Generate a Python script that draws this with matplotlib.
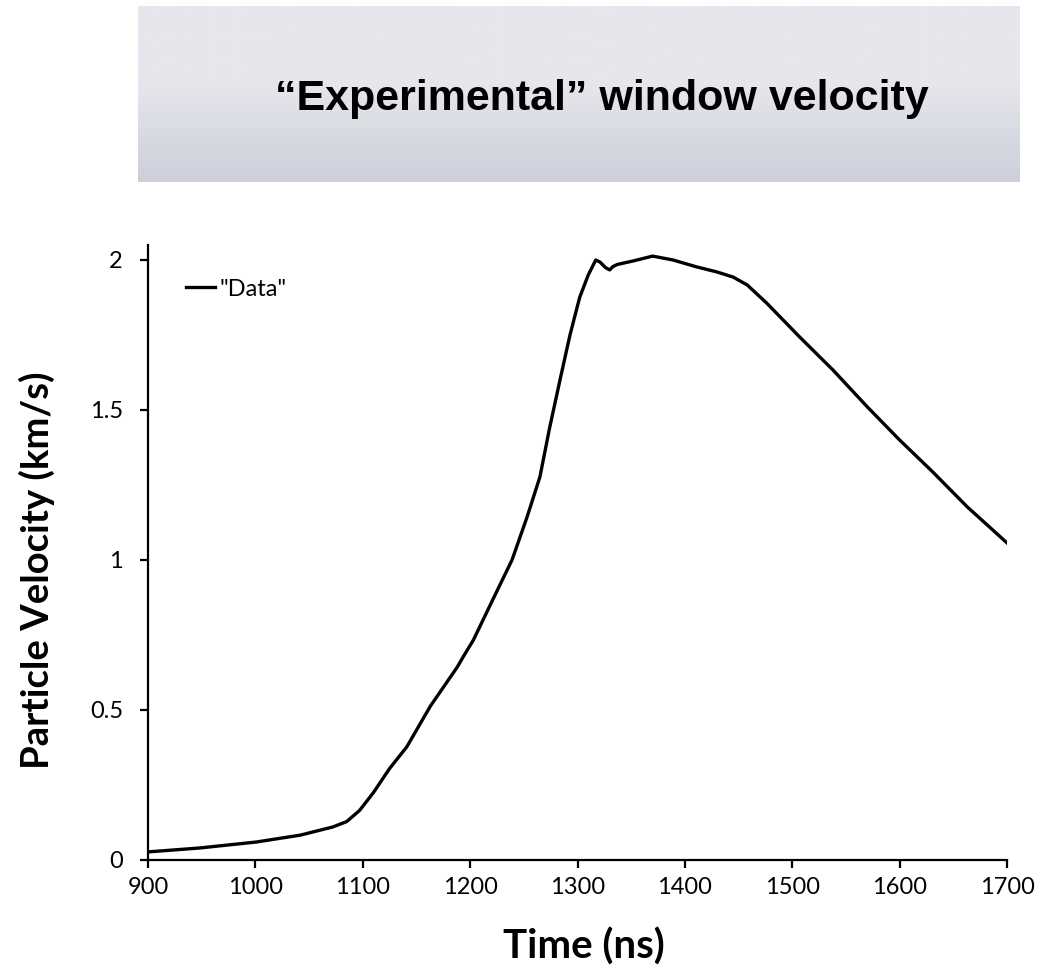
import numpy as np
import matplotlib.pyplot as plt

# window velocity trace (time in ns, particle velocity in km/s)
time_ns = [900, 948, 1001, 1042, 1072, 1085, 1097, 1110, 1125, 1141, 1163, 1188,
           1194, 1203, 1221, 1239, 1253, 1265, 1274, 1284, 1293, 1302, 1310,
           1317, 1321, 1326, 1330, 1333, 1337, 1352, 1370, 1389, 1411, 1430,
           1445, 1458, 1476, 1507, 1538, 1570, 1600, 1631, 1663, 1700]
velocity = [0.027, 0.040, 0.060, 0.083, 0.110, 0.128, 0.165, 0.225, 0.305, 0.377,
            0.513, 0.643, 0.680, 0.733, 0.867, 1.000, 1.143, 1.277, 1.440, 1.605,
            1.750, 1.875, 1.950, 2.000, 1.993, 1.975, 1.967, 1.978, 1.985, 1.997,
            2.013, 2.000, 1.977, 1.960, 1.943, 1.917, 1.857, 1.743, 1.633, 1.510,
            1.400, 1.293, 1.177, 1.057]

x_ticks = [900, 1000, 1100, 1200, 1300, 1400, 1500, 1600, 1700]
y_ticks = [0, 0.5, 1, 1.5, 2]
y_tick_labels = ["0", "0.5", "1", "1.5", "2"]

fig = plt.figure(figsize=(10.54, 9.75), dpi=100)

# shaded title banner
banner = fig.add_axes([138 / 1054, 1 - 182 / 975, 882 / 1054, 176 / 975])
top = np.array([0xE6, 0xE7, 0xEC]) / 255
bottom = np.array([0xCC, 0xCF, 0xDA]) / 255
s = np.linspace(0, 1, 256)
w = np.clip((s - 0.45) / 0.55, 0, 1)
grad = top[None, :] * (1 - w[:, None]) + bottom[None, :] * w[:, None]
banner.imshow(grad[:, None, :], aspect="auto", extent=[0, 1, 1, 0])
banner.set_xlim(0, 1)
banner.set_ylim(1, 0)
banner.axis("off")
banner.text(0.526, 0.469, "\u201cExperimental\u201d window velocity",
            ha="center", va="center", fontsize=31, fontweight="bold",
            family="Liberation Sans", transform=banner.transAxes)

ax = fig.add_axes([148 / 1054, 1 - 860 / 975, 859 / 1054, 615 / 975])
ax.plot(time_ns, velocity, color="black", lw=2.4, label='"Data"',
        solid_joinstyle="round")
ax.set_xlim(900, 1700)
ax.set_ylim(0, 2.05)
ax.set_xticks(x_ticks)
ax.set_yticks(y_ticks)
ax.set_yticklabels(y_tick_labels)

for side in ["top", "right"]:
    ax.spines[side].set_visible(False)
for side in ["left", "bottom"]:
    ax.spines[side].set_linewidth(1.6)
ax.tick_params(direction="out", length=6, width=1.6, labelsize=17)
ax.tick_params(axis="x", pad=6)
ax.tick_params(axis="y", pad=12)
for lab in ax.get_xticklabels() + ax.get_yticklabels():
    lab.set_family("Lato")

ax.set_xlabel("Time (ns)", fontsize=29, fontweight="bold", family="Lato")
ax.set_ylabel("Particle Velocity (km/s)", fontsize=27.5, fontweight="bold",
              family="Lato")
ax.xaxis.set_label_coords(0.5076, -0.11)
ax.yaxis.set_label_coords(-0.108, 0.4715)

leg = ax.legend(loc="upper left", frameon=False, fontsize=17, handlelength=1.2,
                handletextpad=0.2, bbox_to_anchor=(0.02, 0.98))
for t in leg.get_texts():
    t.set_family("Lato")

fig.savefig("out.png", dpi=100)
